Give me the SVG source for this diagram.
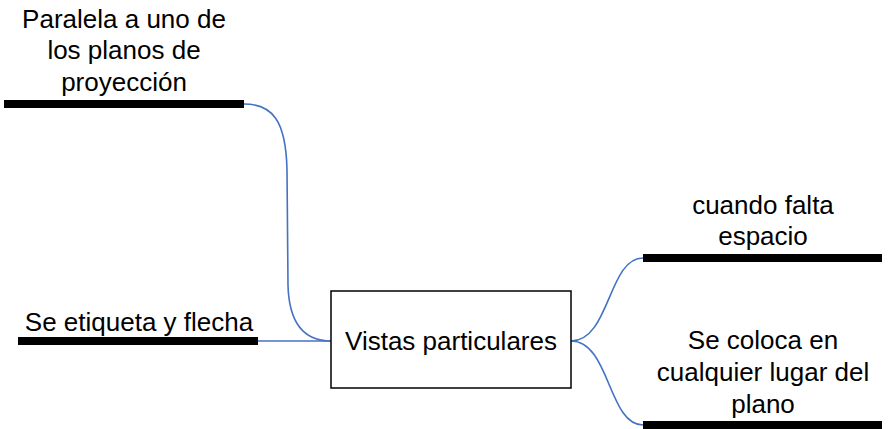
<svg xmlns="http://www.w3.org/2000/svg" width="892" height="429" viewBox="0 0 892 429">
<style>
text{font-family:"Liberation Sans",Arial,sans-serif;font-size:26px;fill:#000;text-anchor:middle}
.bar{stroke:#000;stroke-width:8;fill:none}
.conn{stroke:#4472C4;stroke-width:1.6;fill:none}
</style>
<rect width="892" height="429" fill="#fff"/>
<g id="connectors">
<path class="conn" d="M244,104 C272,104 286,120 287,170 L288,285 C289,325 305,341 331,341"/>
<path class="conn" d="M258,341 L331,341"/>
<path class="conn" d="M571,341 C610,341 608,258 643,258"/>
<path class="conn" d="M571,341 C610,341 608,425 643,425"/>
</g>
<g id="center">
<rect x="331" y="291" width="240" height="97" fill="#fff" stroke="#000" stroke-width="1.5"/>
<text x="451" y="350">Vistas particulares</text>
</g>
<g id="n1">
<line class="bar" x1="4" y1="104" x2="244" y2="104"/>
<text x="124" y="28">Paralela a uno de</text>
<text x="124" y="59">los planos de</text>
<text x="124" y="91">proyección</text>
</g>
<g id="n2">
<line class="bar" x1="18" y1="341" x2="258" y2="341"/>
<text x="139" y="331">Se etiqueta y flecha</text>
</g>
<g id="n3">
<line class="bar" x1="643" y1="258" x2="882" y2="258"/>
<text x="763" y="214">cuando falta</text>
<text x="763" y="245">espacio</text>
</g>
<g id="n4">
<line class="bar" x1="643" y1="425" x2="882" y2="425"/>
<text x="763" y="349">Se coloca en</text>
<text x="763" y="381">cualquier lugar del</text>
<text x="763" y="413">plano</text>
</g>
</svg>
